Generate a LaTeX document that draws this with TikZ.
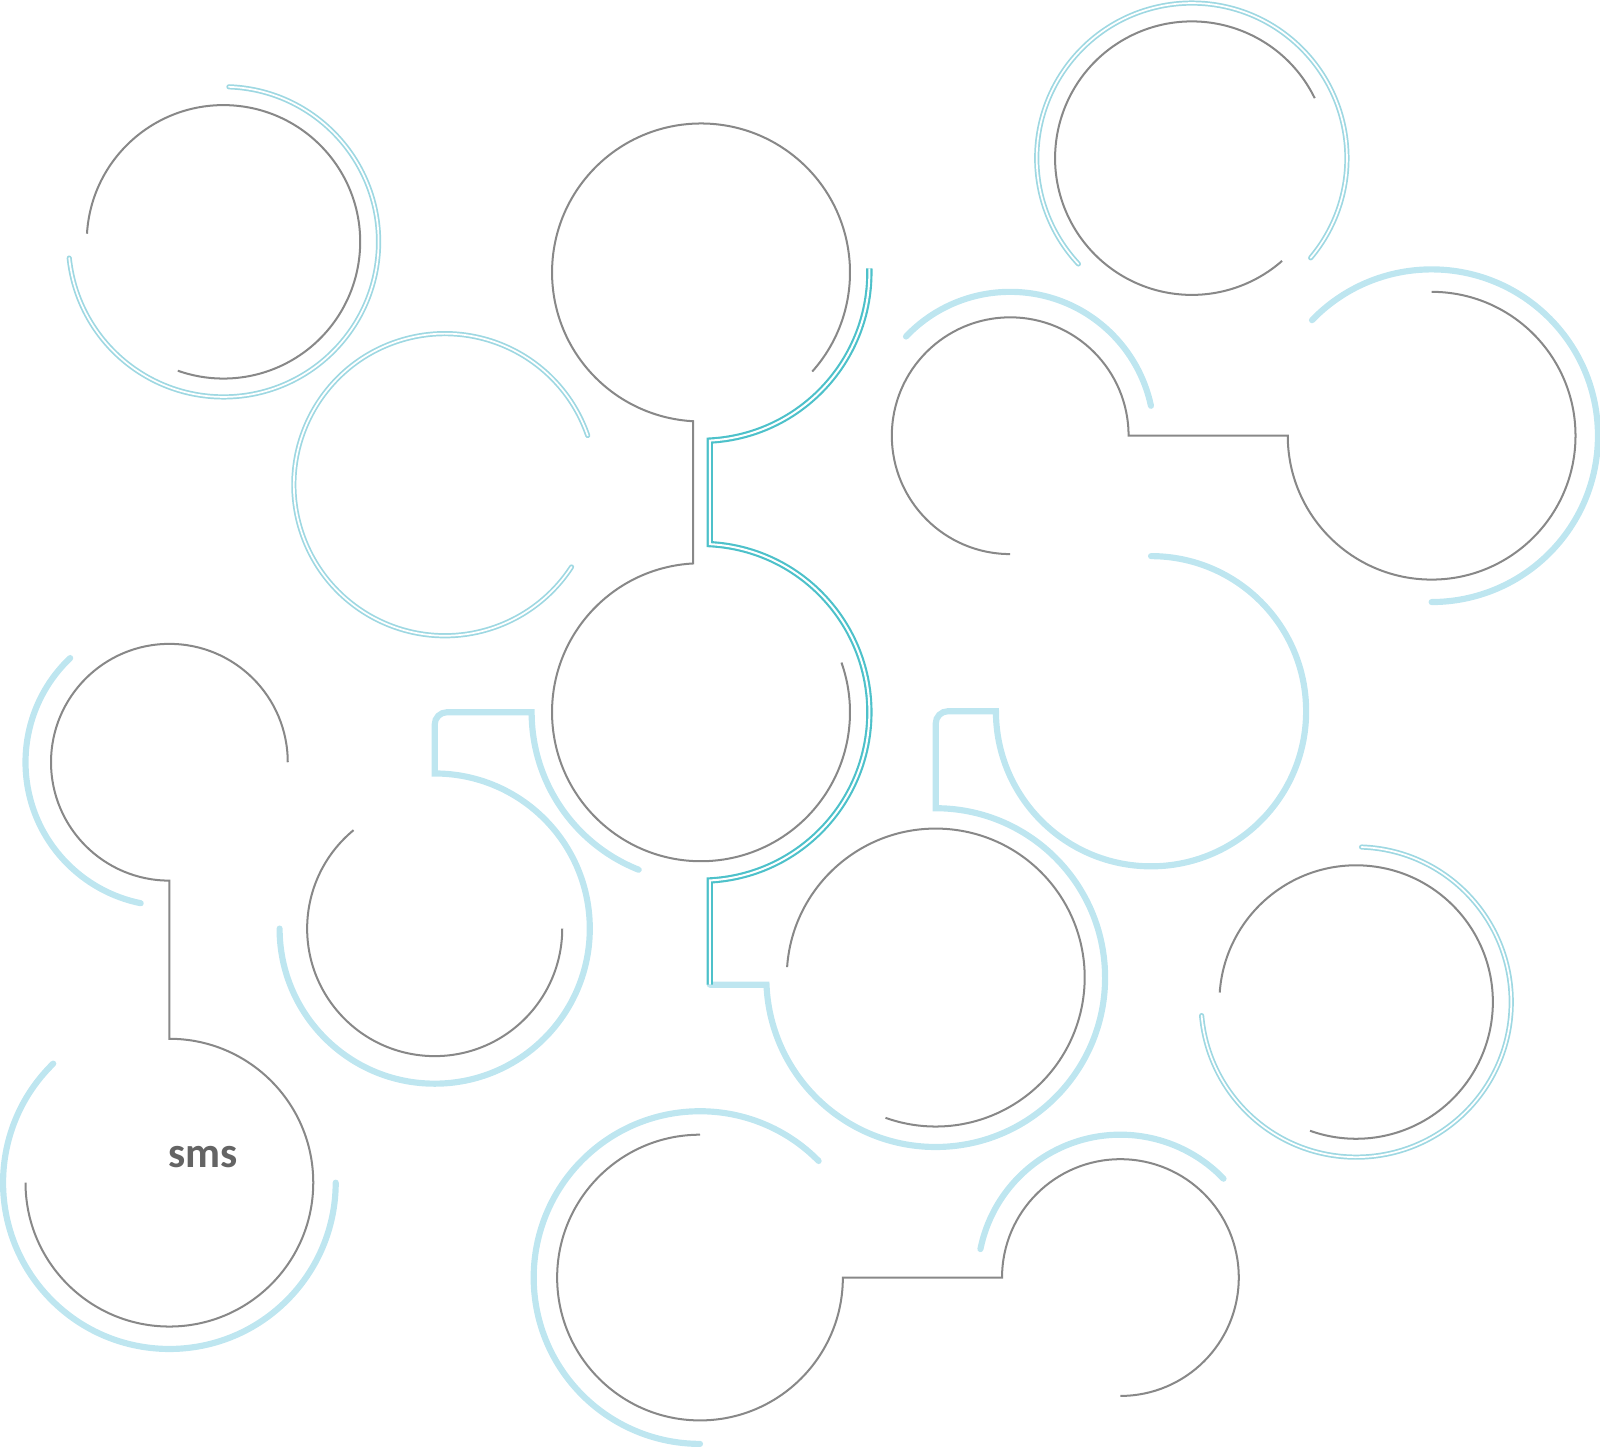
\documentclass[tikz,border=0pt]{standalone}
\usepackage{fontspec}
\newfontfamily\smsfont{Carlito}
\definecolor{ringgray}{HTML}{888888}
\definecolor{ringblue}{HTML}{BEE6F0}
\definecolor{ringcyan}{HTML}{9ED8E2}
\definecolor{ringteal}{HTML}{4DC1CA}
\definecolor{textgray}{HTML}{646464}
\tikzset{
	gline/.style={draw=ringgray, line width=1.4pt},
	bthick/.style={draw=ringblue, line width=4.3pt, line cap=round},
	cdouble/.style={draw=ringcyan, line width=1.2pt, double=white, double distance=1.2pt, line cap=round},
	tdouble/.style={draw=ringteal, line width=1.5pt, double=white, double distance=1.4pt}
}
\begin{document}
\begin{tikzpicture}[x=0.025cm, y=-0.025cm]
	\useasboundingbox (0,0) rectangle (1568,1419);

	\coordinate (c1) at (219,237);
	\coordinate (c2) at (436,475);
	\coordinate (c3) at (687,267);
	\coordinate (c4) at (687,698);
	\coordinate (c5) at (917,958);
	\coordinate (c6) at (1128,697);
	\coordinate (c7) at (1168,155);
	\coordinate (c8) at (990,427);
	\coordinate (c9) at (1403,427);
	\coordinate (c10) at (166,747);
	\coordinate (c11) at (166,1159);
	\coordinate (c12) at (426,910);
	\coordinate (c13) at (1329,982);
	\coordinate (c14) at (686,1252);
	\coordinate (c15) at (1098,1252);

	% light outer rings
	\draw[cdouble] (c1) ++(272:152) arc[start angle=272, end angle=534, radius=152];
	\draw[cdouble] (c2) ++(341:148) arc[start angle=341, end angle=33, radius=148];
	\draw[cdouble] (c7) ++(40:152) arc[start angle=40, end angle=-223, radius=152];
	\draw[cdouble] (c13) ++(272:152) arc[start angle=272, end angle=535, radius=152];

	\draw[bthick] (c8) ++(223.6:141) arc[start angle=223.6, end angle=348, radius=141];
	\draw[bthick] (c9) ++(224:163) arc[start angle=224, end angle=450, radius=163];
	\draw[bthick] (c10) ++(226.4:141) arc[start angle=226.4, end angle=101.5, radius=141];
	\draw[bthick] (c11) ++(225.7:163) arc[start angle=225.7, end angle=0, radius=163];
	\draw[bthick] (c14) ++(-44.5:163) arc[start angle=-44.5, end angle=-270, radius=163];
	\draw[bthick] (c15) ++(191.5:140) arc[start angle=191.5, end angle=316.2, radius=140];
	\draw[bthick] (c12) ++(180:152) arc[start angle=180, end angle=-90, radius=152]
		-- (426,710) arc[start angle=180, end angle=270, radius=12] -- (521,698)
		arc[start angle=180, end angle=111.6, radius=166];
	\draw[bthick] (695.6,965) -- (751.15,965) arc[start angle=177.6, end angle=-90, radius=166]
		-- (917,709) arc[start angle=180, end angle=270, radius=12] -- (976,697)
		arc[start angle=180, end angle=-90, radius=152];

	% teal link
	\draw[tdouble] (c3) ++(-1.4:165) arc[start angle=-1.4, end angle=87, radius=165]
		-- ++(0,101.5) arc[start angle=-87, end angle=87, radius=165] -- (695.6,965);

	% gray rings
	\draw[gline] (c1) ++(183.4:134) arc[start angle=183.4, end angle=469.5, radius=134];
	\draw[gline] (c3) ++(41.7:146) arc[start angle=41.7, end angle=-267, radius=146]
		-- ++(0,139.4) arc[start angle=267, end angle=-19.5, radius=146];
	\draw[gline] (c5) ++(184:146) arc[start angle=184, end angle=469.7, radius=146];
	\draw[gline] (c7) ++(334:134) arc[start angle=334, end angle=48.7, radius=134];
	\draw[gline] (c8) ++(90:116) arc[start angle=90, end angle=360, radius=116]
		-- (1262,427) arc[start angle=180, end angle=-90, radius=141];
	\draw[gline] (c10) ++(0:116) arc[start angle=0, end angle=-270, radius=116]
		-- (166,1018) arc[start angle=-90, end angle=180, radius=141];
	\draw[gline] (c12) ++(230.5:125) arc[start angle=230.5, end angle=0, radius=125];
	\draw[gline] (c13) ++(184:134) arc[start angle=184, end angle=469.7, radius=134];
	\draw[gline] (c14) ++(-90:140) arc[start angle=-90, end angle=-360, radius=140]
		-- (982,1252) arc[start angle=180, end angle=450, radius=116];

	\node[text=textgray, font=\smsfont\bfseries\fontsize{30}{33}\selectfont] (sms) at (199,1134) {sms};
\end{tikzpicture}
\end{document}
